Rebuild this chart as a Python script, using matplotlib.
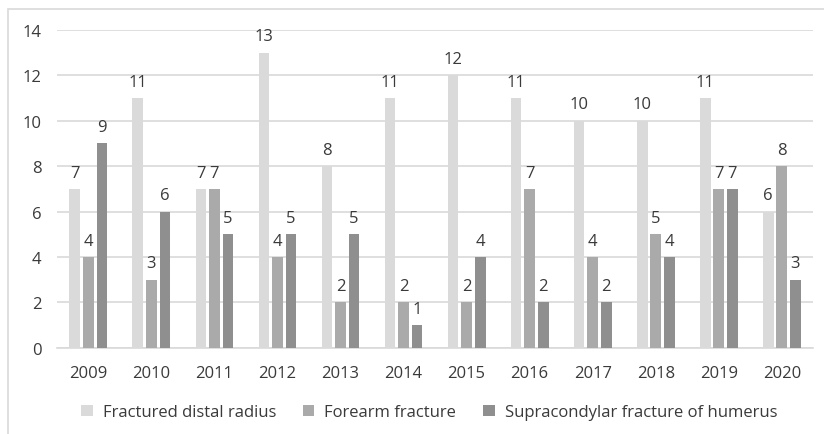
import numpy as np
from matplotlib import pyplot as plt
from matplotlib.patches import Rectangle

years = ['2009', '2010', '2011', '2012', '2013', '2014', '2015', '2016', '2017', '2018', '2019', '2020']
distal_radius = [7, 11, 7, 13, 8, 11, 12, 11, 10, 10, 11, 6]
forearm = [4, 3, 7, 4, 2, 2, 2, 7, 4, 5, 7, 8]
supracondylar = [9, 6, 5, 5, 5, 1, 4, 2, 2, 4, 7, 3]
series_names = ['Fractured distal radius', 'Forearm fracture', 'Supracondylar fracture of humerus']

plt.rcParams['font.family'] = ['Open Sans', 'DejaVu Sans']

fig = plt.figure(figsize=(8.24, 4.35), dpi=100)
ax = fig.add_axes([0.069, 0.198, 0.918, 0.731])

# 外框
fig.patches.append(Rectangle((8 / 824, -0.1), 1.2, 1 - 10 / 435 + 0.1, transform=fig.transFigure,
                             fill=False, edgecolor='#d9d9d9', linewidth=1.2))

x = np.arange(len(years))
w = 0.17
off = 0.215
colors = ['#dadada', '#aaaaaa', '#8f8f8f']
for i, (vals, c, name) in enumerate(zip([distal_radius, forearm, supracondylar], colors, series_names)):
    bars = ax.bar(x + (i - 1) * off, vals, w, color=c, label=name, zorder=3)
    ax.bar_label(bars, padding=6, fontsize=12, color='#3a3a3a')

ax.set_xlim(-0.5, len(years) - 0.5)
ax.set_ylim(0, 14)
ax.set_yticks(range(0, 15, 2))
ax.set_xticks(x)
ax.set_xticklabels(years)
ax.tick_params(length=0, labelsize=12, labelcolor='#3a3a3a')
ax.tick_params(axis='x', pad=12)
ax.tick_params(axis='y', pad=11)
ax.grid(axis='y', color='#d9d9d9', linewidth=1.2, zorder=0)
for s in ['top', 'right', 'left']:
    ax.spines[s].set_visible(False)
ax.spines['bottom'].set_color('#d9d9d9')
ax.spines['bottom'].set_linewidth(1.2)

ax.legend(loc='upper center', bbox_to_anchor=(0.492, -0.13), ncol=3, frameon=False,
          fontsize=12, labelcolor='#3a3a3a', handlelength=0.7, handleheight=0.7,
          columnspacing=1.6, handletextpad=0.6)

plt.savefig('out.png', dpi=100)
